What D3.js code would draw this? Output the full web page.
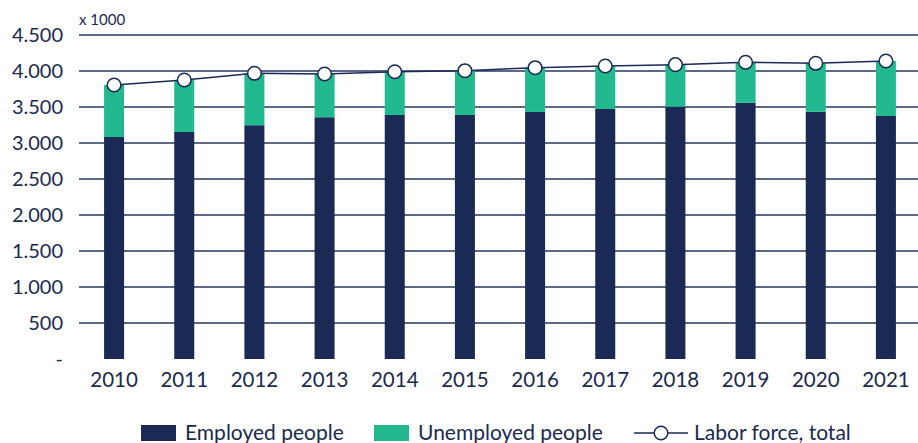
<!DOCTYPE html>
<html lang="en">
  <head>
    <meta charset="UTF-8"/>
    <title>Labor force</title>
    <script src="https://d3js.org/d3.v7.min.js"></script>
    <style>
      body { margin: 0; background: #fff; }
      text { font-family: Lato, "Open Sans", sans-serif; fill: #1b2a4e; }
      .grid line { stroke: #5d6a87; stroke-width: 1.3; shape-rendering: crispEdges; }
    </style>
  </head>
  <body>
    <script>
      // values x 1000
      const years = ["2010", "2011", "2012", "2013", "2014", "2015", "2016", "2017", "2018", "2019", "2020", "2021"]
      const employed = [3083, 3153, 3247, 3358, 3389, 3389, 3431, 3472, 3504, 3558, 3433, 3375]
      const unemployed = [723, 722, 721, 600, 601, 615, 615, 597, 584, 563, 674, 764]
      const laborForce = [3806, 3875, 3968, 3958, 3990, 4004, 4046, 4069, 4088, 4121, 4107, 4139]
      const yTicks = [0, 500, 1000, 1500, 2000, 2500, 3000, 3500, 4000, 4500]

      const width = 918, height = 443
      const navy = "#1b2a55", green = "#22b98f"

      const svg = d3.select("body").append("svg")
          .attr("width", width)
          .attr("height", height)

      const x = d3.scaleBand()
          .domain(years)
          .range([79, 921])
          .paddingInner(0.715)
          .paddingOuter(0.3575)

      const y = d3.scaleLinear()
          .domain([0, 4500])
          .range([359, 35])

      // gridlines (none at zero)
      svg.append("g")
          .attr("class", "grid")
        .selectAll("line")
        .data(yTicks.filter(d => d > 0))
        .join("line")
          .attr("x1", 79)
          .attr("x2", width)
          .attr("y1", d => y(d))
          .attr("y2", d => y(d))

      // y labels
      const fmt = d => d === 0 ? "-" : d3.format(",")(d).replace(/,/g, ".")
      svg.append("g")
        .selectAll("text")
        .data(yTicks)
        .join("text")
          .attr("x", 63)
          .attr("y", d => y(d) + 7)
          .attr("text-anchor", "end")
          .attr("font-size", 20)
          .text(fmt)

      svg.append("text")
          .attr("x", 79)
          .attr("y", 25)
          .attr("font-size", 15)
          .text("x 1000")

      // stacked bars
      const bars = svg.append("g")
      bars.selectAll(".emp")
        .data(years)
        .join("rect")
          .attr("class", "emp")
          .attr("x", d => x(d))
          .attr("width", x.bandwidth())
          .attr("y", (d, i) => y(employed[i]))
          .attr("height", (d, i) => y(0) - y(employed[i]))
          .attr("fill", navy)
      bars.selectAll(".unemp")
        .data(years)
        .join("rect")
          .attr("class", "unemp")
          .attr("x", d => x(d))
          .attr("width", x.bandwidth())
          .attr("y", (d, i) => y(employed[i] + unemployed[i]))
          .attr("height", (d, i) => y(employed[i]) - y(employed[i] + unemployed[i]))
          .attr("fill", green)

      // labor force line
      const cx = d => x(d) + x.bandwidth() / 2
      const line = d3.line()
          .x(d => cx(d))
          .y((d, i) => y(laborForce[i]))
      svg.append("path")
          .datum(years)
          .attr("d", line)
          .attr("fill", "none")
          .attr("stroke", navy)
          .attr("stroke-width", 1.5)
      svg.append("g")
        .selectAll("circle")
        .data(years)
        .join("circle")
          .attr("cx", d => cx(d))
          .attr("cy", (d, i) => y(laborForce[i]))
          .attr("r", 6.8)
          .attr("fill", "#fff")
          .attr("stroke", navy)
          .attr("stroke-width", 1.5)

      // x labels
      svg.append("g")
        .selectAll("text")
        .data(years)
        .join("text")
          .attr("x", d => cx(d))
          .attr("y", 387)
          .attr("text-anchor", "middle")
          .attr("font-size", 20.5)
          .text(d => d)

      // legend
      const legend = svg.append("g")
      legend.append("rect").attr("x", 141).attr("y", 425).attr("width", 35).attr("height", 16).attr("fill", navy)
      legend.append("text").attr("x", 185).attr("y", 440).attr("font-size", 21).text("Employed people")
      legend.append("rect").attr("x", 374).attr("y", 425).attr("width", 35).attr("height", 16).attr("fill", green)
      legend.append("text").attr("x", 418).attr("y", 440).attr("font-size", 21).text("Unemployed people")
      legend.append("line").attr("x1", 634).attr("x2", 688).attr("y1", 433).attr("y2", 433)
          .attr("stroke", navy).attr("stroke-width", 1.5)
      legend.append("circle").attr("cx", 661).attr("cy", 433).attr("r", 6.8)
          .attr("fill", "#fff").attr("stroke", navy).attr("stroke-width", 1.5)
      legend.append("text").attr("x", 694).attr("y", 440).attr("font-size", 21).text("Labor force, total")
    </script>
  </body>
</html>
